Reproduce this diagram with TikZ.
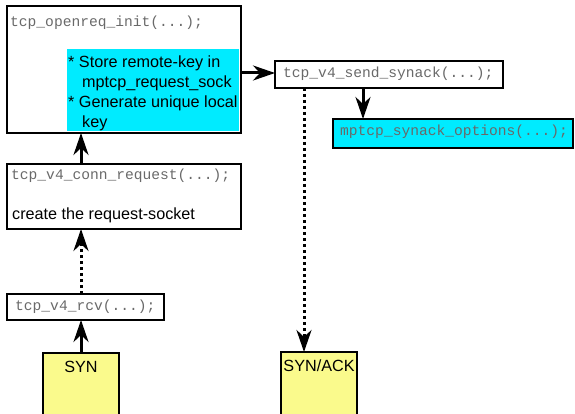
\documentclass[tikz,border=0pt]{standalone}
\usepackage{fontspec}
\setmainfont{Liberation Sans}
\setmonofont{Liberation Mono}
\usetikzlibrary{arrows.meta}

\definecolor{boxcyan}{RGB}{0,235,255}
\definecolor{pktyellow}{RGB}{250,250,140}
\definecolor{codegray}{RGB}{105,105,105}

\tikzset{
  box/.style={draw=black, line width=1.4pt, inner sep=0pt, outer sep=0pt, anchor=north west},
  code/.style={font=\ttfamily\fontsize{14.6pt}{17pt}\selectfont, text=codegray, inner sep=0pt, anchor=west},
  prose/.style={font=\fontsize{16.2pt}{20pt}\selectfont, text=black, inner sep=0pt},
  flow/.style={line width=3pt, -{Stealth[length=22pt, width=15pt, inset=7pt]}},
  dotflow/.style={flow, dash pattern=on 3pt off 3pt},
}

\begin{document}
\begin{tikzpicture}[x=1pt, y=-1pt]
\useasboundingbox (0,0) rectangle (575,414);

% function boxes
\node[box, minimum width=234pt, minimum height=127pt] (openreq) at (7,6) {};
\node[box, draw=none, fill=boxcyan, minimum width=172pt, minimum height=82pt] (keybox) at (67,49) {};
\node[box, fill=white, minimum width=228pt, minimum height=27pt] (send) at (275,61) {};
\node[box, fill=boxcyan, minimum width=240pt, minimum height=29pt] (opts) at (333,119) {};
\node[box, minimum width=234pt, minimum height=65pt] (conn) at (7,164) {};
\node[box, minimum width=157pt, minimum height=26pt] (rcv) at (7,294) {};

% packets
\node[box, fill=pktyellow, minimum width=76pt, minimum height=75pt] (syn) at (43,353) {};
\node[box, fill=pktyellow, minimum width=76pt, minimum height=75pt] (synack) at (281,352) {};

% labels
\node[code] (t-openreq) at (10,23) {tcp\_openreq\_init(...);};
\node[prose, anchor=base west] (k1) at (68,68) {* Store remote-key in};
\node[prose, anchor=base west] (k2) at (82,88) {mptcp\_request\_sock};
\node[prose, anchor=base west] (k3) at (68,108) {* Generate unique local};
\node[prose, anchor=base west] (k4) at (82,128) {key};
\node[code] (t-send) at (283,74) {tcp\_v4\_send\_synack(...);};
\node[code] (t-opts) at (340,132) {mptcp\_synack\_options(...);};
\node[code] (t-conn) at (11,176) {tcp\_v4\_conn\_request(...);};
\node[prose, anchor=west] (t-create) at (12,215) {create the request-socket};
\node[code] (t-rcv) at (15,307) {tcp\_v4\_rcv(...);};
\node[prose, anchor=center] (t-syn) at (81,367) {SYN};
\node[prose, anchor=center] (t-synack) at (319,366) {SYN/ACK};

% connectors
\draw[flow] (syn.north) -- (syn.north |- rcv.south);
\draw[dotflow] (syn.north |- rcv.north) -- (syn.north |- conn.south);
\draw[flow] (syn.north |- conn.north) -- (syn.north |- openreq.south);
\draw[flow] ([yshift=1.5pt]openreq.east |- send.west) -- ([yshift=1.5pt]send.west);
\draw[flow] ([xshift=-26pt]send.south) -- ([xshift=-26pt]send.south |- opts.north);
\draw[dotflow] ([xshift=-15pt]synack.north |- send.south) -- ([xshift=-15pt]synack.north);
\end{tikzpicture}
\end{document}
